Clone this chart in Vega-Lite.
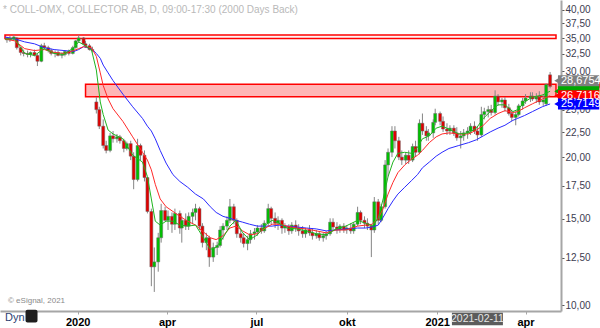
{
"$schema":"https://vega.github.io/schema/vega-lite/v6.json",
"width":561,"height":311,
"autosize":{"type":"none"},
"padding":{"left":0,"top":0,"right":39,"bottom":17},
"background":"white",
"config":{"view":{"stroke":null},"font":"Liberation Sans",
 "axis":{"grid":false,"domainColor":"#a6a6a6","domainWidth":2,"tickSize":3,"labelFont":"Liberation Sans","labelOverlap":false,"labelFlush":false}},
"title":{"text":"* COLL-OMX, COLLECTOR AB, D, 09:00-17:30 (2000 Days Back)","anchor":"start","frame":"group","orient":"top","offset":-13,"baseline":"alphabetic","dx":3,"dy":10,"fontSize":10,"fontWeight":"normal","color":"#b9b9b9","font":"Liberation Sans"},
"datasets":{
"zones":[{"zone":"upper","from":"2019-10-19","to":"2021-05-02","lo":34.96,"hi":35.52},{"zone":"lower","from":"2020-01-09","to":"2021-05-02","lo":26.58,"hi":28.2}],
"tags":[{"kind":"zone","v":27.95,"label":"27,9500"},{"kind":"ma10","v":27.29,"label":"27,2902"},{"kind":"ma20","v":26.7116,"label":"26,7116"},{"kind":"ma50","v":25.7149,"label":"25,7149"},{"kind":"last","v":28.6754,"label":"28,6754"}],
"candles":[
{"d":"2019-10-21","o":34.72,"h":35.2,"l":34.25,"c":34.88},
{"d":"2019-10-24","o":34.88,"h":35.36,"l":34.4,"c":34.72},
{"d":"2019-10-28","o":34.88,"h":35.52,"l":34.56,"c":35.2},
{"d":"2019-10-31","o":35.04,"h":35.2,"l":33.18,"c":33.48},
{"d":"2019-11-04","o":33.48,"h":33.63,"l":32.28,"c":32.73},
{"d":"2019-11-07","o":32.73,"h":33.18,"l":32.14,"c":32.58},
{"d":"2019-11-11","o":32.58,"h":33.03,"l":31.99,"c":32.43},
{"d":"2019-11-14","o":32.43,"h":32.88,"l":31.99,"c":32.73},
{"d":"2019-11-18","o":32.73,"h":33.18,"l":32.14,"c":32.28},
{"d":"2019-11-21","o":32.28,"h":32.58,"l":30.71,"c":31.41},
{"d":"2019-11-25","o":31.41,"h":34.09,"l":31.27,"c":33.78},
{"d":"2019-11-28","o":33.78,"h":34.25,"l":33.18,"c":33.48},
{"d":"2019-12-02","o":33.48,"h":33.78,"l":32.73,"c":33.03},
{"d":"2019-12-05","o":33.03,"h":33.33,"l":32.28,"c":32.58},
{"d":"2019-12-09","o":32.58,"h":33.03,"l":31.99,"c":32.73},
{"d":"2019-12-12","o":32.73,"h":33.03,"l":32.14,"c":32.28},
{"d":"2019-12-16","o":32.28,"h":32.73,"l":31.84,"c":32.43},
{"d":"2019-12-19","o":32.43,"h":33.03,"l":32.14,"c":32.88},
{"d":"2019-12-23","o":32.88,"h":33.18,"l":32.28,"c":32.58},
{"d":"2019-12-27","o":32.58,"h":33.78,"l":32.43,"c":33.48},
{"d":"2019-12-30","o":33.48,"h":34.72,"l":33.33,"c":34.56},
{"d":"2020-01-02","o":34.56,"h":35.52,"l":34.25,"c":35.04},
{"d":"2020-01-07","o":35.04,"h":35.2,"l":33.94,"c":34.09},
{"d":"2020-01-09","o":34.09,"h":34.56,"l":33.48,"c":33.78},
{"d":"2020-01-13","o":33.78,"h":34.09,"l":33.03,"c":33.18},
{"d":"2020-01-16","o":33.18,"h":33.63,"l":32.73,"c":33.03},
{"d":"2020-01-20","o":25.95,"h":26.55,"l":24.58,"c":25.03},
{"d":"2020-01-23","o":25.03,"h":25.37,"l":22.85,"c":23.16},
{"d":"2020-01-27","o":23.16,"h":23.91,"l":20.86,"c":21.15},
{"d":"2020-01-30","o":21.15,"h":21.63,"l":20.39,"c":20.67},
{"d":"2020-02-03","o":20.67,"h":22.44,"l":20.49,"c":22.13},
{"d":"2020-02-06","o":22.13,"h":22.64,"l":21.44,"c":21.83},
{"d":"2020-02-10","o":21.83,"h":22.33,"l":21.44,"c":22.03},
{"d":"2020-02-13","o":22.03,"h":22.23,"l":21.34,"c":21.63},
{"d":"2020-02-17","o":21.63,"h":21.83,"l":20.49,"c":20.86},
{"d":"2020-02-20","o":20.86,"h":21.54,"l":20.67,"c":21.34},
{"d":"2020-02-24","o":21.34,"h":21.63,"l":19.75,"c":20.12},
{"d":"2020-02-27","o":20.12,"h":20.49,"l":17.23,"c":18.03},
{"d":"2020-03-02","o":18.03,"h":21.83,"l":17.87,"c":21.15},
{"d":"2020-03-05","o":21.15,"h":21.34,"l":19.75,"c":20.21},
{"d":"2020-03-09","o":20.21,"h":20.67,"l":17.87,"c":18.2},
{"d":"2020-03-12","o":18.2,"h":18.2,"l":15.38,"c":15.52},
{"d":"2020-03-16","o":15.52,"h":15.73,"l":10.93,"c":11.97},
{"d":"2020-03-19","o":11.97,"h":13.11,"l":10.64,"c":12.25},
{"d":"2020-03-23","o":12.25,"h":14.04,"l":11.7,"c":13.72},
{"d":"2020-03-26","o":13.72,"h":16.09,"l":13.41,"c":15.59},
{"d":"2020-03-30","o":15.59,"h":15.87,"l":14.83,"c":14.89},
{"d":"2020-04-02","o":14.89,"h":15.59,"l":14.23,"c":15.17},
{"d":"2020-04-06","o":15.17,"h":15.45,"l":14.04,"c":14.62},
{"d":"2020-04-09","o":14.62,"h":15.73,"l":14.23,"c":15.38},
{"d":"2020-04-14","o":15.38,"h":15.59,"l":13.98,"c":14.36},
{"d":"2020-04-16","o":14.36,"h":15.17,"l":13.41,"c":14.89},
{"d":"2020-04-20","o":14.89,"h":15.38,"l":14.23,"c":14.49},
{"d":"2020-04-23","o":14.49,"h":15.45,"l":14.23,"c":15.17},
{"d":"2020-04-27","o":15.17,"h":15.73,"l":14.62,"c":15.45},
{"d":"2020-04-30","o":15.45,"h":16.09,"l":14.89,"c":15.73},
{"d":"2020-05-04","o":15.73,"h":15.87,"l":14.23,"c":14.49},
{"d":"2020-05-07","o":14.49,"h":14.69,"l":13.11,"c":13.41},
{"d":"2020-05-11","o":13.41,"h":14.04,"l":12.94,"c":13.72},
{"d":"2020-05-14","o":13.72,"h":13.85,"l":11.97,"c":12.53},
{"d":"2020-05-18","o":12.53,"h":13.41,"l":12.25,"c":13.11},
{"d":"2020-05-22","o":13.11,"h":13.47,"l":12.65,"c":13.23},
{"d":"2020-05-25","o":13.23,"h":14.49,"l":13.11,"c":14.23},
{"d":"2020-05-28","o":14.23,"h":14.69,"l":13.6,"c":14.49},
{"d":"2020-06-01","o":14.49,"h":15.17,"l":14.23,"c":14.89},
{"d":"2020-06-04","o":14.89,"h":16.46,"l":14.69,"c":15.87},
{"d":"2020-06-08","o":15.87,"h":16.09,"l":14.62,"c":14.89},
{"d":"2020-06-11","o":14.89,"h":15.03,"l":13.72,"c":13.98},
{"d":"2020-06-15","o":13.98,"h":14.23,"l":13.41,"c":13.72},
{"d":"2020-06-18","o":13.72,"h":14.04,"l":13.11,"c":13.35},
{"d":"2020-06-22","o":13.35,"h":13.85,"l":12.94,"c":13.6},
{"d":"2020-06-25","o":13.6,"h":14.23,"l":13.35,"c":13.98},
{"d":"2020-06-29","o":13.98,"h":14.36,"l":13.6,"c":14.1},
{"d":"2020-07-02","o":14.1,"h":14.56,"l":13.85,"c":14.36},
{"d":"2020-07-06","o":14.36,"h":14.62,"l":13.98,"c":14.17},
{"d":"2020-07-09","o":14.17,"h":14.89,"l":14.04,"c":14.69},
{"d":"2020-07-13","o":14.69,"h":16.09,"l":14.49,"c":15.73},
{"d":"2020-07-16","o":15.73,"h":15.87,"l":14.62,"c":15.03},
{"d":"2020-07-20","o":15.03,"h":15.45,"l":14.36,"c":14.69},
{"d":"2020-07-23","o":14.69,"h":15.17,"l":14.23,"c":14.89},
{"d":"2020-07-27","o":14.89,"h":15.03,"l":13.98,"c":14.36},
{"d":"2020-07-30","o":14.36,"h":14.69,"l":14.04,"c":14.49},
{"d":"2020-08-03","o":14.49,"h":14.62,"l":13.91,"c":14.17},
{"d":"2020-08-06","o":14.17,"h":14.76,"l":13.98,"c":14.56},
{"d":"2020-08-10","o":14.56,"h":14.89,"l":14.1,"c":14.36},
{"d":"2020-08-13","o":14.36,"h":14.62,"l":13.85,"c":14.17},
{"d":"2020-08-17","o":14.17,"h":14.49,"l":13.72,"c":13.98},
{"d":"2020-08-20","o":13.98,"h":14.36,"l":13.72,"c":14.23},
{"d":"2020-08-24","o":14.23,"h":14.56,"l":13.85,"c":14.04},
{"d":"2020-08-27","o":14.04,"h":14.36,"l":13.6,"c":13.85},
{"d":"2020-08-31","o":13.85,"h":14.23,"l":13.66,"c":13.98},
{"d":"2020-09-03","o":13.98,"h":14.17,"l":13.53,"c":13.72},
{"d":"2020-09-07","o":13.72,"h":14.04,"l":13.47,"c":13.85},
{"d":"2020-09-10","o":13.85,"h":14.17,"l":13.6,"c":13.98},
{"d":"2020-09-14","o":13.98,"h":15.03,"l":13.85,"c":14.76},
{"d":"2020-09-17","o":14.76,"h":15.03,"l":14.17,"c":14.43},
{"d":"2020-09-21","o":14.43,"h":14.76,"l":13.98,"c":14.23},
{"d":"2020-09-24","o":14.23,"h":14.62,"l":14.04,"c":14.49},
{"d":"2020-09-28","o":14.49,"h":14.69,"l":14.04,"c":14.23},
{"d":"2020-10-01","o":14.23,"h":14.56,"l":13.98,"c":14.36},
{"d":"2020-10-05","o":14.36,"h":14.69,"l":13.98,"c":14.17},
{"d":"2020-10-08","o":14.17,"h":14.76,"l":13.98,"c":14.62},
{"d":"2020-10-12","o":14.62,"h":15.87,"l":14.49,"c":15.45},
{"d":"2020-10-15","o":15.45,"h":15.59,"l":14.62,"c":14.89},
{"d":"2020-10-19","o":14.89,"h":15.17,"l":14.36,"c":14.69},
{"d":"2020-10-22","o":14.69,"h":15.03,"l":14.23,"c":14.49},
{"d":"2020-10-26","o":14.49,"h":14.62,"l":12.53,"c":14.23},
{"d":"2020-10-29","o":14.23,"h":16.61,"l":14.04,"c":16.24},
{"d":"2020-11-02","o":16.24,"h":16.46,"l":14.62,"c":14.89},
{"d":"2020-11-05","o":14.89,"h":16.09,"l":14.76,"c":15.87},
{"d":"2020-11-09","o":15.87,"h":19.75,"l":15.73,"c":19.31},
{"d":"2020-11-12","o":19.31,"h":20.86,"l":18.28,"c":20.49},
{"d":"2020-11-16","o":20.49,"h":23.16,"l":20.03,"c":22.64},
{"d":"2020-11-19","o":22.64,"h":23.16,"l":20.86,"c":21.63},
{"d":"2020-11-23","o":21.63,"h":22.03,"l":19.75,"c":20.03},
{"d":"2020-11-26","o":20.03,"h":20.67,"l":19.31,"c":19.75},
{"d":"2020-11-30","o":19.75,"h":20.49,"l":19.4,"c":20.21},
{"d":"2020-12-03","o":20.21,"h":20.67,"l":19.4,"c":19.75},
{"d":"2020-12-07","o":19.75,"h":21.34,"l":19.57,"c":21.05},
{"d":"2020-12-10","o":21.05,"h":21.63,"l":20.03,"c":20.49},
{"d":"2020-12-14","o":20.49,"h":23.91,"l":20.3,"c":23.48},
{"d":"2020-12-17","o":23.48,"h":24.58,"l":22.23,"c":22.64},
{"d":"2020-12-21","o":22.64,"h":23.16,"l":21.63,"c":22.13},
{"d":"2020-12-23","o":22.13,"h":22.85,"l":21.63,"c":22.44},
{"d":"2020-12-28","o":22.44,"h":23.91,"l":21.93,"c":23.58},
{"d":"2020-12-30","o":23.58,"h":25.14,"l":23.26,"c":24.58},
{"d":"2021-01-04","o":24.58,"h":24.8,"l":23.26,"c":23.69},
{"d":"2021-01-07","o":23.69,"h":24.24,"l":22.54,"c":22.85},
{"d":"2021-01-11","o":22.85,"h":23.48,"l":22.23,"c":22.64},
{"d":"2021-01-14","o":22.64,"h":23.26,"l":22.23,"c":22.95},
{"d":"2021-01-18","o":22.95,"h":23.26,"l":22.13,"c":22.44},
{"d":"2021-01-21","o":22.44,"h":23.05,"l":21.63,"c":21.93},
{"d":"2021-01-25","o":21.93,"h":22.64,"l":20.86,"c":22.13},
{"d":"2021-01-28","o":22.13,"h":22.85,"l":21.63,"c":22.44},
{"d":"2021-02-01","o":22.44,"h":23.05,"l":21.83,"c":22.64},
{"d":"2021-02-04","o":22.64,"h":23.48,"l":22.23,"c":23.16},
{"d":"2021-02-08","o":23.16,"h":23.69,"l":22.33,"c":22.64},
{"d":"2021-02-11","o":22.64,"h":23.16,"l":21.63,"c":22.23},
{"d":"2021-02-15","o":22.23,"h":25.37,"l":22.03,"c":24.46},
{"d":"2021-02-18","o":24.46,"h":25.25,"l":23.91,"c":24.8},
{"d":"2021-02-22","o":24.8,"h":25.48,"l":24.13,"c":25.03},
{"d":"2021-02-25","o":25.03,"h":25.6,"l":24.35,"c":24.69},
{"d":"2021-03-01","o":24.69,"h":27.41,"l":24.46,"c":26.67},
{"d":"2021-03-04","o":26.67,"h":26.92,"l":25.48,"c":25.95},
{"d":"2021-03-08","o":25.95,"h":26.43,"l":25.25,"c":26.19},
{"d":"2021-03-11","o":26.19,"h":26.55,"l":24.8,"c":25.25},
{"d":"2021-03-15","o":25.25,"h":25.72,"l":24.35,"c":24.58},
{"d":"2021-03-18","o":24.58,"h":25.03,"l":23.69,"c":24.13},
{"d":"2021-03-22","o":24.13,"h":24.8,"l":23.26,"c":24.46},
{"d":"2021-03-25","o":24.46,"h":25.72,"l":24.24,"c":25.48},
{"d":"2021-03-29","o":25.48,"h":26.43,"l":25.03,"c":26.07},
{"d":"2021-04-01","o":26.07,"h":26.92,"l":25.72,"c":26.43},
{"d":"2021-04-06","o":26.43,"h":27.16,"l":25.95,"c":26.67},
{"d":"2021-04-08","o":26.67,"h":27.16,"l":26.07,"c":26.31},
{"d":"2021-04-12","o":26.31,"h":27.04,"l":25.83,"c":26.55},
{"d":"2021-04-15","o":26.55,"h":27.29,"l":25.6,"c":25.95},
{"d":"2021-04-19","o":25.95,"h":26.92,"l":25.48,"c":26.19},
{"d":"2021-04-22","o":25.72,"h":28.29,"l":25.48,"c":28.16},
{"d":"2021-04-26","o":29.47,"h":29.87,"l":27.66,"c":27.91}
],
"ma":[
{"d":"2019-10-19","g":34.88,"r":34.88,"b":35.2},
{"d":"2019-10-29","g":34.88,"r":34.56,"b":34.88},
{"d":"2019-11-08","g":32.58,"r":33.33,"b":34.4},
{"d":"2019-11-18","g":32.28,"r":33.03,"b":34.09},
{"d":"2019-11-28","g":33.33,"r":33.18,"b":33.48},
{"d":"2019-12-08","g":32.58,"r":32.73,"b":33.18},
{"d":"2019-12-18","g":32.43,"r":32.58,"b":33.03},
{"d":"2019-12-28","g":33.48,"r":33.03,"b":32.88},
{"d":"2020-01-02","g":34.4,"r":33.33,"b":33.18},
{"d":"2020-01-07","g":33.94,"r":33.63,"b":33.63},
{"d":"2020-01-15","g":33.18,"r":33.48,"b":33.33},
{"d":"2020-01-20","g":30.15,"r":32.14,"b":32.58},
{"d":"2020-01-24","g":25.95,"r":29.74,"b":31.84},
{"d":"2020-01-27","g":24.46,"r":28.03,"b":30.85},
{"d":"2020-02-01","g":22.74,"r":26.31,"b":29.74},
{"d":"2020-02-06","g":22.33,"r":25.14,"b":28.68},
{"d":"2020-02-16","g":21.83,"r":23.69,"b":26.92},
{"d":"2020-02-26","g":20.21,"r":22.03,"b":25.37},
{"d":"2020-03-07","g":19.57,"r":20.49,"b":24.02},
{"d":"2020-03-12","g":18.28,"r":19.75,"b":23.16},
{"d":"2020-03-16","g":16.46,"r":18.87,"b":22.64},
{"d":"2020-03-20","g":14.83,"r":17.63,"b":21.83},
{"d":"2020-03-25","g":14.56,"r":16.46,"b":20.67},
{"d":"2020-03-31","g":14.83,"r":15.87,"b":19.48},
{"d":"2020-04-07","g":14.83,"r":15.52,"b":18.45},
{"d":"2020-04-14","g":14.56,"r":15.17,"b":17.87},
{"d":"2020-04-22","g":14.49,"r":14.83,"b":17.39},
{"d":"2020-04-30","g":14.56,"r":14.56,"b":16.84},
{"d":"2020-05-08","g":13.72,"r":14.1,"b":16.46},
{"d":"2020-05-15","g":12.99,"r":13.72,"b":15.87},
{"d":"2020-05-21","g":13.11,"r":13.6,"b":15.45},
{"d":"2020-05-28","g":13.72,"r":13.85,"b":15.17},
{"d":"2020-06-04","g":14.49,"r":14.36,"b":15.03},
{"d":"2020-06-10","g":14.89,"r":14.49,"b":14.89},
{"d":"2020-06-17","g":14.04,"r":14.17,"b":14.76},
{"d":"2020-06-24","g":13.6,"r":13.91,"b":14.62},
{"d":"2020-07-02","g":13.91,"r":13.98,"b":14.49},
{"d":"2020-07-10","g":14.56,"r":14.36,"b":14.49},
{"d":"2020-07-17","g":14.89,"r":14.62,"b":14.49},
{"d":"2020-07-24","g":14.69,"r":14.62,"b":14.56},
{"d":"2020-08-01","g":14.36,"r":14.49,"b":14.49},
{"d":"2020-08-11","g":14.3,"r":14.36,"b":14.43},
{"d":"2020-08-21","g":14.17,"r":14.3,"b":14.36},
{"d":"2020-08-31","g":13.98,"r":14.17,"b":14.3},
{"d":"2020-09-10","g":13.91,"r":14.04,"b":14.17},
{"d":"2020-09-20","g":14.3,"r":14.23,"b":14.23},
{"d":"2020-09-30","g":14.49,"r":14.23,"b":14.3},
{"d":"2020-10-12","g":14.89,"r":14.49,"b":14.36},
{"d":"2020-10-20","g":14.69,"r":14.56,"b":14.36},
{"d":"2020-10-27","g":14.49,"r":14.62,"b":14.43},
{"d":"2020-11-02","g":15.03,"r":15.03,"b":14.56},
{"d":"2020-11-07","g":16.46,"r":15.73,"b":15.1},
{"d":"2020-11-12","g":18.28,"r":16.84,"b":15.73},
{"d":"2020-11-17","g":19.57,"r":17.79,"b":16.31},
{"d":"2020-11-22","g":20.39,"r":18.62,"b":16.84},
{"d":"2020-11-29","g":20.49,"r":19.31,"b":17.39},
{"d":"2020-12-06","g":20.39,"r":19.84,"b":17.95},
{"d":"2020-12-12","g":20.96,"r":20.21,"b":18.45},
{"d":"2020-12-17","g":21.83,"r":20.67,"b":19.05},
{"d":"2020-12-24","g":22.13,"r":21.44,"b":19.57},
{"d":"2020-12-31","g":22.95,"r":22.03,"b":20.12},
{"d":"2021-01-06","g":23.16,"r":22.33,"b":20.49},
{"d":"2021-01-13","g":22.85,"r":22.44,"b":20.86},
{"d":"2021-01-23","g":22.33,"r":22.33,"b":21.15},
{"d":"2021-02-02","g":22.44,"r":22.33,"b":21.44},
{"d":"2021-02-10","g":22.95,"r":22.74,"b":21.73},
{"d":"2021-02-17","g":24.02,"r":23.26,"b":22.13},
{"d":"2021-02-24","g":24.8,"r":24.02,"b":22.54},
{"d":"2021-03-04","g":25.6,"r":24.58,"b":22.95},
{"d":"2021-03-11","g":25.6,"r":24.91,"b":23.26},
{"d":"2021-03-19","g":24.8,"r":24.69,"b":23.8},
{"d":"2021-03-24","g":25.03,"r":24.8,"b":24.02},
{"d":"2021-03-31","g":25.95,"r":25.25,"b":24.35},
{"d":"2021-04-08","g":26.55,"r":25.72,"b":24.8},
{"d":"2021-04-18","g":26.8,"r":26.31,"b":25.37},
{"d":"2021-04-26","g":27.29,"r":26.71,"b":25.71}
]
},
"layer":[
{"data":{"name":"zones"},"mark":{"type":"rect","stroke":"#ff0000","strokeWidth":1.5},
 "encoding":{
  "x":{"field":"from","type":"temporal","scale":{"type":"utc","domain":[{"year":2019,"month":10,"date":19,"utc":true},{"year":2021,"month":5,"date":2,"utc":true}]},
   "axis":{"values":[{"year":2020,"month":1,"date":1,"utc":true},{"year":2020,"month":4,"date":1,"utc":true},{"year":2020,"month":7,"date":1,"utc":true},{"year":2020,"month":10,"date":1,"utc":true},{"year":2021,"month":1,"date":1,"utc":true},{"year":2021,"month":4,"date":1,"utc":true}],
   "labelExpr":"utcmonth(datum.value)==0 ? utcFormat(datum.value,'%Y') : (utcmonth(datum.value)==3 ? 'apr' : (utcmonth(datum.value)==6 ? 'jul' : 'okt'))",
   "title":null,"tickColor":"#a6a6a6","labelFontWeight":"bold","labelFontSize":11,"labelColor":"#000000","labelPadding":2}},
  "x2":{"field":"to"},
  "y":{"field":"lo","type":"quantitative","scale":{"type":"log","domain":[9.96,40.9],"nice":false,"zero":false},
   "axis":{"orient":"right","values":[10,12.5,15,17.5,20,22.5,25,30,32.5,35,37.5,40],"labelExpr":"replace(format(datum.value,'.2f'),'.',',')","title":null,"tickColor":"#555555","labelFontSize":10,"labelColor":"#3c3c50","labelPadding":1,"zindex":0}},
  "y2":{"field":"hi"},
  "fill":{"field":"zone","type":"nominal","scale":{"domain":["upper","lower"],"range":["#fff2f2","#ffb6b6"]},"legend":null}}},
{"data":{"name":"candles"},"mark":{"type":"rule","color":"#858585","strokeWidth":1},
 "encoding":{"x":{"field":"d","type":"temporal"},"y":{"field":"l","type":"quantitative"},"y2":{"field":"h"}}},
{"data":{"name":"candles"},"mark":{"type":"bar","width":3,"stroke":"#6a6a6a","strokeWidth":0.5},
 "encoding":{"x":{"field":"d","type":"temporal"},"y":{"field":"o","type":"quantitative"},"y2":{"field":"c"},
 "color":{"condition":{"test":"datum.c >= datum.o","value":"#00c000"},"value":"#e00000"}}},
{"data":{"name":"ma"},"mark":{"type":"line","color":"#2a2aff","strokeWidth":1},
 "encoding":{"x":{"field":"d","type":"temporal"},"y":{"field":"b","type":"quantitative"}}},
{"data":{"name":"ma"},"mark":{"type":"line","color":"#ff2a2a","strokeWidth":1},
 "encoding":{"x":{"field":"d","type":"temporal"},"y":{"field":"r","type":"quantitative"}}},
{"data":{"name":"ma"},"mark":{"type":"line","color":"#1fb51f","strokeWidth":1},
 "encoding":{"x":{"field":"d","type":"temporal"},"y":{"field":"g","type":"quantitative"}}},
{"data":{"values":[{"t":"© eSignal, 2021"}]},"mark":{"type":"text","align":"left","baseline":"alphabetic","dx":3,"fontSize":8,"color":"#8a8a8a"},
 "encoding":{"x":{"datum":{"year":2019,"month":10,"date":19,"utc":true},"type":"temporal"},"y":{"datum":10.12,"type":"quantitative"},"text":{"field":"t"}}},
{"data":{"name":"tags"},"transform":[{"filter":"datum.kind=='zone'"}],"layer":[
 {"mark":{"type":"bar","orient":"horizontal","height":10,"color":"#ffe6e6","stroke":"#ff0000","strokeWidth":0.5},
  "encoding":{"x":{"datum":{"year":2021,"month":5,"date":4,"utc":true},"type":"temporal"},"x2":{"datum":{"year":2021,"month":6,"date":15,"utc":true}},"y":{"field":"v","type":"quantitative"}}},
 {"mark":{"type":"text","align":"left","baseline":"middle","dx":3,"fontSize":11,"color":"#ff0000"},
  "encoding":{"x":{"datum":{"year":2021,"month":5,"date":4,"utc":true},"type":"temporal"},"y":{"field":"v","type":"quantitative"},"text":{"field":"label"}}}
]},
{"data":{"name":"tags"},"transform":[{"filter":"datum.kind!='zone'"}],"layer":[
 {"mark":{"type":"point","shape":"triangle-left","filled":true,"size":40,"opacity":1},
  "encoding":{"x":{"datum":{"year":2021,"month":5,"date":3,"utc":true},"type":"temporal"},"y":{"field":"v","type":"quantitative"},
  "color":{"field":"kind","type":"nominal","scale":{"domain":["ma10","ma20","ma50","last"],"range":["#00a800","#ff0000","#0000ff","#7f7f7f"]},"legend":null}}},
 {"mark":{"type":"bar","orient":"horizontal","height":11},
  "encoding":{"x":{"datum":{"year":2021,"month":5,"date":4,"utc":true},"type":"temporal"},"x2":{"datum":{"year":2021,"month":6,"date":15,"utc":true}},"y":{"field":"v","type":"quantitative"},
  "color":{"field":"kind","type":"nominal","scale":{"domain":["ma10","ma20","ma50","last"],"range":["#00a800","#ff0000","#0000ff","#7f7f7f"]},"legend":null}}},
 {"transform":[{"filter":"datum.kind!='ma10'"}],"mark":{"type":"text","align":"left","baseline":"middle","dx":3,"fontSize":11,"color":"#ffffff"},
  "encoding":{"x":{"datum":{"year":2021,"month":5,"date":4,"utc":true},"type":"temporal"},"y":{"field":"v","type":"quantitative"},"text":{"field":"label"}}}
]},
{"data":{"values":[{"d":"2021-02-11","t":"2021-02-11"}]},"layer":[
 {"mark":{"type":"bar","width":51,"color":"#5c5c5c"},
  "encoding":{"x":{"field":"d","type":"temporal"},"y":{"datum":9.65,"type":"quantitative"},"y2":{"datum":9.1}}},
 {"mark":{"type":"text","align":"center","baseline":"middle","fontSize":10.5,"color":"#e6e6e6"},
  "encoding":{"x":{"field":"d","type":"temporal"},"y":{"datum":9.39,"type":"quantitative"},"text":{"field":"t"}}}
]},
{"data":{"values":[{"t":"Dyn"}]},"mark":{"type":"text","align":"left","baseline":"alphabetic","fontSize":11,"color":"#2b3f73"},
 "encoding":{"x":{"datum":{"year":2019,"month":10,"date":19,"utc":true},"type":"temporal"},"y":{"datum":9.27,"type":"quantitative"},"text":{"field":"t"}}},
{"data":{"values":[{"d":"2019-11-15"}]},"mark":{"type":"bar","width":12,"color":"#1e1e1e","cornerRadius":2},
 "encoding":{"x":{"field":"d","type":"temporal"},"y":{"datum":9.79,"type":"quantitative"},"y2":{"datum":9.22}}}
]
}
